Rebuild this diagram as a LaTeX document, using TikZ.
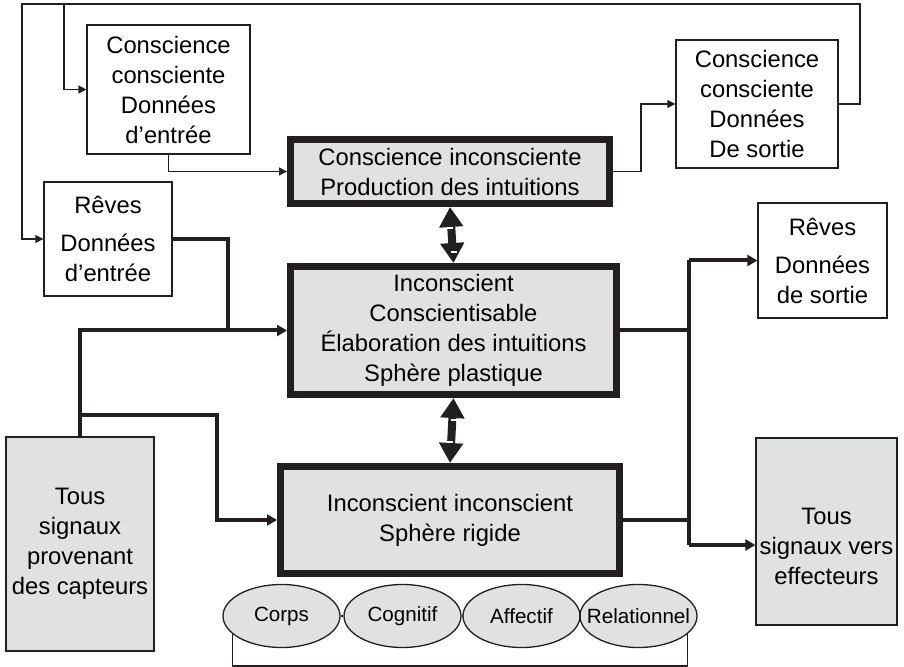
\documentclass[tikz,border=0pt]{standalone}
\usepackage{fontspec}
\setmainfont{Liberation Sans}
\usetikzlibrary{arrows.meta, positioning, shapes.geometric}
\definecolor{gris}{RGB}{224,225,227}
\definecolor{encre}{RGB}{35,31,32}

\begin{document}
\begin{tikzpicture}[x=0.5pt, y=-0.5pt,
        cadre/.style={rectangle, draw=encre, line width=0.65pt, align=center, inner sep=0pt, font=\fontsize{11.9}{15}\selectfont},
        cadregras/.style={cadre, fill=gris, line width=3.5pt},
        bulle/.style={ellipse, draw=encre, fill=gris, line width=0.65pt, minimum width=58.5pt, minimum height=31.5pt, inner sep=0pt, font=\fontsize{10.3}{12}\selectfont},
        fin/.style={draw=encre, line width=0.75pt},
        fleche/.style={fin, -{Triangle[length=4pt, width=4pt]}},
        gras/.style={draw=encre, line width=2pt},
        flechegras/.style={gras, -{Triangle[length=5pt, width=5.5pt]}},
        bidir/.style={draw=encre, line width=4pt, {Triangle[length=10pt, width=11.5pt]}-{Triangle[length=10pt, width=11.5pt]}},
        marque/.style={draw=white, line width=1pt}]
    \useasboundingbox (0,0) rectangle (904,667);
    % les blocs
    \node[cadre, minimum width=81.5pt, minimum height=64.5pt] (ccin) at (168.5,89.5) {Conscience\\consciente\\Données\\d’entrée};
    \node[cadre, minimum width=64pt, minimum height=57pt] (revin) at (108,239) {Rêves\\[4pt]Données\\d’entrée};
    \node[cadregras, minimum width=159.5pt, minimum height=32pt] (ci) at (450,171.5) {Conscience inconsciente\\Production des intuitions};
    \node[cadregras, minimum width=163pt, minimum height=64pt] (icons) at (453.5,330.5) {Inconscient\\Conscientisable\\Élaboration des intuitions\\Sphère plastique};
    \node[cadregras, minimum width=169.5pt, minimum height=53.5pt] (ii) at (450,520) {Inconscient inconscient\\Sphère rigide};
    \node[cadre, minimum width=81pt, minimum height=64pt] (ccout) at (757,104) {Conscience\\consciente\\Données\\De sortie};
    \node[cadre, minimum width=64.5pt, minimum height=57.5pt] (revout) at (822.5,260.5) {Rêves\\[4pt]Données\\de sortie};
    \node[cadre, fill=gris, minimum width=70.5pt, minimum height=93.5pt] (effect) at (826.5,531.5) {\rule{0pt}{23.5pt}Tous\\signaux vers\\effecteurs};
    \node[cadre, fill=gris, minimum width=74pt, minimum height=107pt] (capt) at (80,544) {Tous\\signaux\\provenant\\des capteurs};
    % les sphères
    \node[bulle] (corps) at (281.5,616) {\makebox[0pt]{Corps}};
    \node[bulle] (cogn) at (402.5,616) {\makebox[0pt]{Cognitif}};
    \node[bulle] (affect) at (521.5,616) {\makebox[0pt]{Affectif}};
    \node[bulle] (rel) at (638.5,616) {\makebox[0pt]{Relationnel}};
    \draw[fin] (corps.east) -- (cogn.west);
    \draw[fin] (cogn.east) -- (affect.west);
    \draw[fin] (affect.east) -- (rel.west);
    \coordinate (bas) at (0,666);
    \draw[fin] (corps.200) -- (corps.200 |- bas) -| (rel.340);
    % boucle du haut
    \coordinate (hd) at (860,4);
    \coordinate (hg) at (22,4);
    \coordinate (hm) at (64,4);
    \draw[fleche] (ccout.east) -| (hd) -- (hg) |- (revin.west);
    \draw[fleche] (hm) |- (ccin.west);
    \draw[fleche] (ccin.south) |- (ci.west);
    \draw[fleche] (ci.east) -- ++(28,0) |- (ccout.west);
    % entrées
    \coordinate (j1) at (228,330.5);
    \coordinate (j2) at (80,415);
    \coordinate (j3) at (217,415);
    \draw[gras] (revin.east) -| (j1);
    \draw[flechegras] (capt.north) |- (icons.west);
    \draw[flechegras] (j2) -- (j3) |- (ii.west);
    % sorties
    \coordinate (rx) at (689,260.5);
    \coordinate (ry) at (689,545);
    \draw[gras] (icons.east) -- (icons.east -| rx);
    \draw[gras] (ii.east) -- (ii.east -| rx);
    \draw[gras] (rx) -- (ry);
    \draw[flechegras] (rx) -- (revout.west);
    \draw[flechegras] (ry) -- (ry -| effect.west);
    % liaisons doubles
    \draw[bidir] (ci.south) -- (icons.north);
    \draw[bidir] (icons.south) -- (ii.north);
    \draw[marque] (ci.south) ++(-3,21) -- ++(6,0);
    \draw[marque] (icons.north) ++(-3,-11) -- ++(6,0);
    \draw[marque] (icons.south) ++(-3,22) -- ++(6,0);
    \draw[marque] (ii.north) ++(-3,-21) -- ++(6,0);
\end{tikzpicture}
\end{document}
